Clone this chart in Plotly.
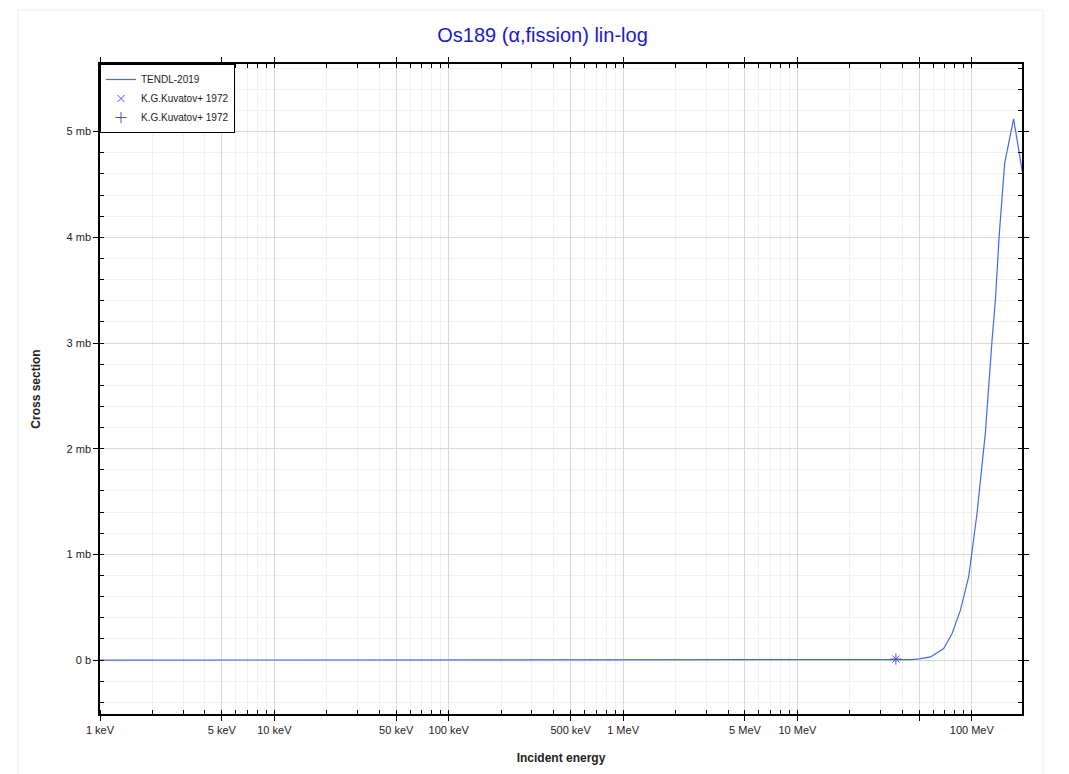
import plotly.graph_objects as go

# TENDL-2019 evaluation (energy in eV, cross section in mb)
tendl_energy = [1e3, 1e4, 1e5, 1e6, 1e7, 2e7, 3e7, 4e7, 4.5e7, 5e7, 5.8e7, 6.9e7, 7.7e7,
                8.6e7, 9.6e7, 1.07e8, 1.195e8, 1.306e8, 1.365e8, 1.438e8, 1.543e8,
                1.737e8, 1.95e8]
tendl_xs = [0, 0, 0, 0, 0, 0, 0, 0.002, 0.005, 0.012, 0.03, 0.11, 0.25,
            0.47, 0.79, 1.38, 2.14, 3.02, 3.40, 4.03, 4.70,
            5.12, 4.62]

# EXFOR K.G.Kuvatov+ 1972
exp_energy = [3.67e7]
exp_xs = [0.01]

x_tickvals = [1e3, 5e3, 1e4, 5e4, 1e5, 5e5, 1e6, 5e6, 1e7, 5e7, 1e8]
x_ticktext = ['1 keV', '5 keV', '10 keV', '50 keV', '100 keV', '500 keV',
              '1 MeV', '5 MeV', '10 MeV', '', '100 MeV']
y_tickvals = [0, 1, 2, 3, 4, 5]
y_ticktext = ['0 b', '1 mb', '2 mb', '3 mb', '4 mb', '5 mb']

LINE_COLOR = '#4469e8'
MARKER_COLOR = '#4b4bff'

fig = go.Figure()

fig.add_trace(go.Scatter(
    x=tendl_energy, y=tendl_xs, mode='lines', name='TENDL-2019',
    line=dict(color=LINE_COLOR, width=1.2),
))
fig.add_trace(go.Scatter(
    x=exp_energy, y=exp_xs, mode='markers', name='K.G.Kuvatov+ 1972',
    marker=dict(symbol='x-thin', size=7, color=MARKER_COLOR,
                line=dict(width=1, color=MARKER_COLOR)),
))
fig.add_trace(go.Scatter(
    x=exp_energy, y=exp_xs, mode='markers', name='K.G.Kuvatov+ 1972',
    marker=dict(symbol='cross-thin', size=8, color=MARKER_COLOR,
                line=dict(width=1, color=MARKER_COLOR)),
))

fig.update_layout(
    width=1069, height=774,
    paper_bgcolor='white', plot_bgcolor='white',
    font=dict(family='Liberation Sans, Arial, sans-serif', size=11, color='#222'),
    title=dict(text='Os189 (α,fission) lin-log', x=0.5, xanchor='center',
               y=0.965, yanchor='middle',
               font=dict(size=20, color='#1a1acc')),
    margin=dict(l=92, r=55, t=56, b=68),
    showlegend=True,
    legend=dict(x=0, y=1, xanchor='left', yanchor='top',
                bgcolor='white', bordercolor='black', borderwidth=1,
                font=dict(size=10, color='#222'),
                tracegroupgap=0, itemwidth=30),
    xaxis=dict(
        type='log', range=[3, 8.288],
        title=dict(text='<b>Incident energy</b>', font=dict(size=12), standoff=19),
        tickvals=x_tickvals, ticktext=x_ticktext,
        ticks='outside', ticklen=5, tickcolor='black',
        showline=True, linecolor='black', linewidth=1.5, mirror='allticks',
        showgrid=True, gridcolor='#d9d9d9', gridwidth=1,
        zeroline=False,
        minor=dict(dtick='D1', ticks='inside', ticklen=4, tickcolor='black',
                   showgrid=True, gridcolor='#f1f1f1'),
    ),
    yaxis=dict(
        range=[-0.51, 5.64],
        title=dict(text='<b>Cross section</b>', font=dict(size=12), standoff=23),
        tickvals=y_tickvals, ticktext=y_ticktext,
        ticks='outside', ticklen=5, tickcolor='black',
        showline=True, linecolor='black', linewidth=1.5, mirror='allticks',
        showgrid=True, gridcolor='#d9d9d9', gridwidth=1,
        zeroline=False,
        minor=dict(dtick=0.2, ticks='inside', ticklen=4, tickcolor='black',
                   showgrid=True, gridcolor='#f1f1f1'),
    ),
    shapes=[dict(type='rect', xref='paper', yref='paper',
                 x0=-0.089, x1=1.023, y0=-0.12, y1=1.083,
                 line=dict(color='#ececec', width=1), layer='below')],
)

fig.write_html('out.html')
